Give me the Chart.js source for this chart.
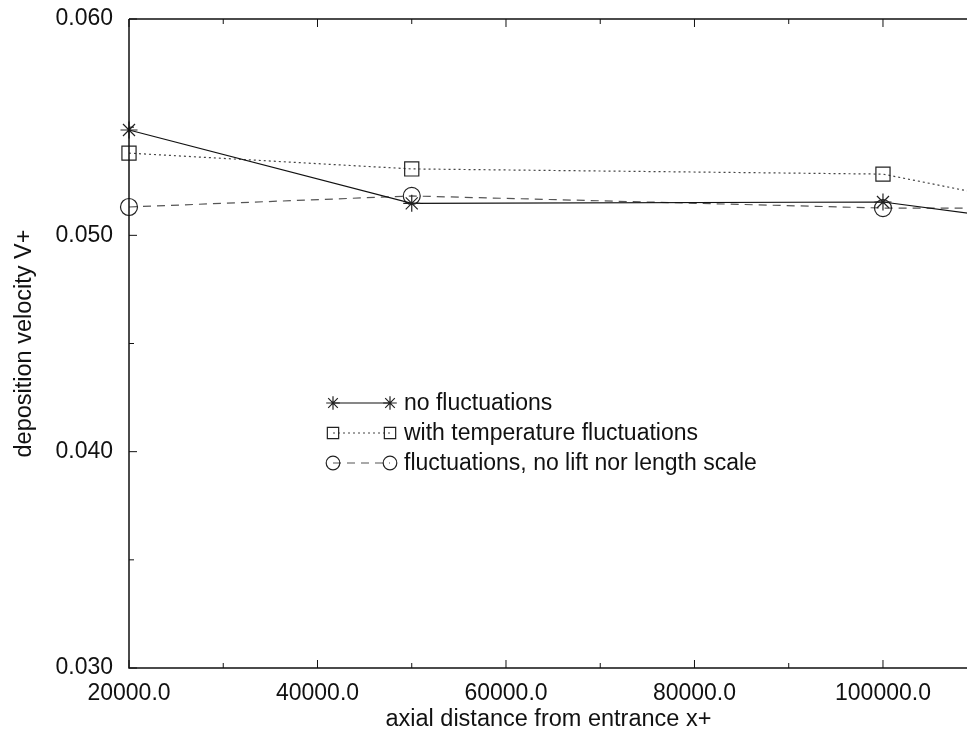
<!DOCTYPE html>
<html>
<head>
<meta charset="utf-8">
<script src="https://cdn.jsdelivr.net/npm/chart.js@4.4.1/dist/chart.umd.min.js"></script>
<style>
  body { margin: 0; background: #fff; overflow: hidden; }
  #wrap { width: 967px; height: 734px; overflow: hidden; }
</style>
</head>
<body>
<div id="wrap"><canvas id="chart" width="979" height="734"></canvas></div>
<script>
// axial distance x+ (last point lies past the cropped right edge)
let xPos = [20000, 50000, 100000, 120000];

let noFluct = [0.05487, 0.05148, 0.05154, 0.05040];
let tempFluct = [0.05380, 0.05307, 0.05283, 0.05110];
let noLift = [0.05131, 0.05182, 0.05126, 0.05125];

let seriesNames = ['no fluctuations', 'with temperature fluctuations', 'fluctuations, no lift nor length scale'];

let xTicks = [20000, 40000, 60000, 80000, 100000];
let yTicks = [0.030, 0.040, 0.050, 0.060];
let xMin = 20000, xMax = 109000;
let yMin = 0.030, yMax = 0.060;

let FONT = 'Liberation Sans, Arial, Helvetica, sans-serif';

function pts(vals) {
    return vals.map(function (v, i) { return { x: xPos[i], y: v }; });
}

let styles = [
    { color: '#111', dash: [], pointStyle: 'star', radius: 8.5 },
    { color: '#444', dash: [2, 3], pointStyle: 'rect', radius: 10 },
    { color: '#555', dash: [8, 6], pointStyle: 'circle', radius: 8.5 }
];

let datasets = [noFluct, tempFluct, noLift].map(function (vals, i) {
    let s = styles[i];
    return {
        label: seriesNames[i],
        data: pts(vals),
        borderColor: s.color,
        borderWidth: 1.2,
        borderDash: s.dash,
        pointStyle: s.pointStyle,
        pointRadius: s.radius,
        pointBorderColor: '#222',
        pointBackgroundColor: 'rgba(0,0,0,0)',
        pointBorderWidth: 1.2,
        tension: 0,
        clip: false
    };
});

// inward ticks, frame and legend drawn on top
let framePlugin = {
    id: 'frame',
    afterDraw: function (chart) {
        let ctx = chart.ctx;
        let a = chart.chartArea;
        let xs = chart.scales.x, ys = chart.scales.y;
        ctx.save();
        ctx.strokeStyle = '#111';
        ctx.lineWidth = 1.5;
        ctx.beginPath();
        ctx.moveTo(a.left, a.top);
        ctx.lineTo(a.left, a.bottom);
        ctx.lineTo(a.right, a.bottom);
        ctx.moveTo(a.left, a.top);
        ctx.lineTo(a.right, a.top);
        ctx.stroke();

        ctx.lineWidth = 1;
        ctx.beginPath();
        let xStep = xTicks[1] - xTicks[0];
        for (let v = xTicks[0]; v <= xMax; v += xStep / 2) {
            let px = xs.getPixelForValue(v);
            let len = ((v - xTicks[0]) % xStep === 0) ? 8 : 5;
            ctx.moveTo(px, a.bottom);
            ctx.lineTo(px, a.bottom - len);
            ctx.moveTo(px, a.top);
            ctx.lineTo(px, a.top + len);
        }
        let yStep = yTicks[1] - yTicks[0];
        for (let k = 0; k <= 6; k++) {
            let py = ys.getPixelForValue(yTicks[0] + k * yStep / 2);
            let len = (k % 2 === 0) ? 8 : 5;
            ctx.moveTo(a.left, py);
            ctx.lineTo(a.left + len, py);
        }
        ctx.stroke();

        // legend
        let lx0 = 333, lx1 = 390, tx = 404;
        let rows = [403, 433, 463];
        ctx.font = '23px ' + FONT;
        ctx.textBaseline = 'middle';
        chart.data.datasets.forEach(function (ds, i) {
            let y = rows[i];
            ctx.strokeStyle = ds.borderColor;
            ctx.lineWidth = 1.2;
            ctx.setLineDash(ds.borderDash);
            ctx.beginPath();
            ctx.moveTo(lx0, y);
            ctx.lineTo(lx1, y);
            ctx.stroke();
            ctx.setLineDash([]);
            ctx.strokeStyle = '#222';
            ctx.fillStyle = 'rgba(0,0,0,0)';
            let opt = { pointStyle: ds.pointStyle, radius: ds.pointRadius * 0.8, borderWidth: 1 };
            Chart.helpers.drawPoint(ctx, opt, lx0, y);
            Chart.helpers.drawPoint(ctx, opt, lx1, y);
            ctx.fillStyle = '#111';
            ctx.fillText(ds.label, tx, y + 1);
        });
        ctx.restore();
    }
};

let ctx = document.getElementById('chart').getContext('2d');
let chart = new Chart(ctx, {
    type: 'line',
    data: { datasets: datasets },
    options: {
        responsive: false,
        animation: false,
        layout: { padding: { top: 19, right: 0, left: 0, bottom: 0 } },
        scales: {
            x: {
                type: 'linear',
                min: xMin,
                max: xMax,
                grid: { display: false, drawTicks: false },
                border: { display: false },
                afterBuildTicks: function (s) {
                    s.ticks = xTicks.map(function (v) { return { value: v }; });
                },
                ticks: {
                    maxRotation: 0,
                    autoSkip: false,
                    padding: 12,
                    color: '#111',
                    font: { family: FONT, size: 23 },
                    callback: function (v) { return Number(v).toFixed(1); }
                },
                title: {
                    display: true,
                    text: 'axial distance from entrance x+',
                    color: '#111',
                    font: { family: FONT, size: 23.5 },
                    padding: { top: 0, bottom: 0 }
                },
                afterFit: function (s) {
                    s.height = 66;
                    s.paddingLeft = 0;
                    s.paddingRight = 0;
                }
            },
            y: {
                min: yMin,
                max: yMax,
                grid: { display: false, drawTicks: false },
                border: { display: false },
                afterBuildTicks: function (s) {
                    s.ticks = yTicks.map(function (v) { return { value: v }; });
                },
                ticks: {
                    padding: 16,
                    color: '#111',
                    font: { family: FONT, size: 23 },
                    callback: function (v) { return Number(v).toFixed(3); }
                },
                title: {
                    display: true,
                    text: 'deposition velocity V+',
                    color: '#111',
                    font: { family: FONT, size: 23.5 },
                    padding: { top: 10, bottom: 0 }
                },
                afterFit: function (s) {
                    s.width = 129;
                    s.paddingTop = 0;
                    s.paddingBottom = 0;
                }
            }
        },
        plugins: {
            legend: { display: false },
            tooltip: { enabled: false }
        }
    },
    plugins: [framePlugin]
});
</script>
</body>
</html>
